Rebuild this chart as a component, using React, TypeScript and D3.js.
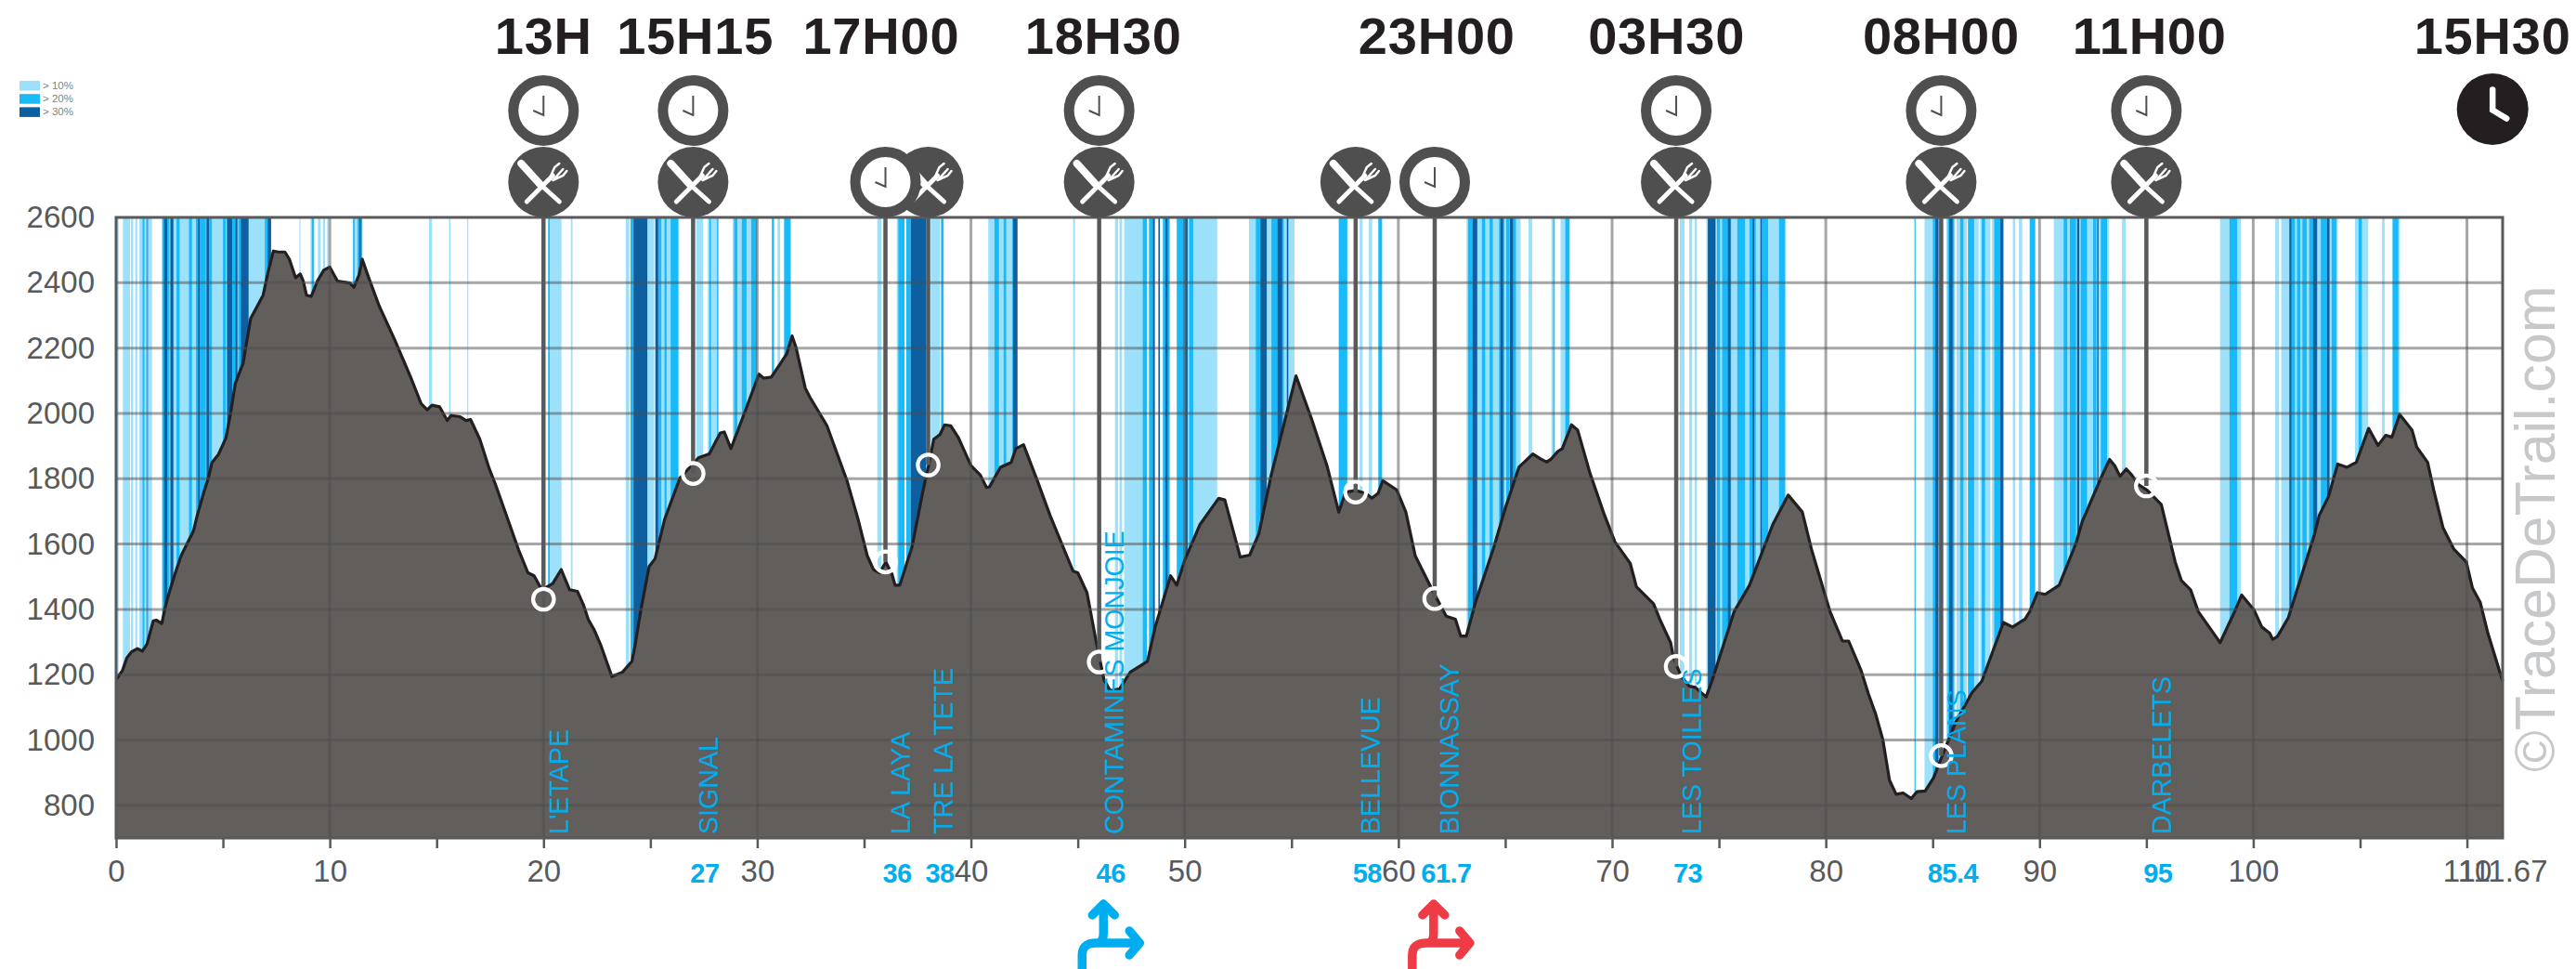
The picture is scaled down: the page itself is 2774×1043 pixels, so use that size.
import { useEffect, useRef } from "react";
import * as d3 from "d3";

// km, altitude (m)
const profile: [number, number][] = [
  [0, 1185], [0.3, 1213], [0.5, 1251], [0.72, 1270], [1, 1280], [1.23, 1272], [1.45, 1294], [1.74, 1365], [1.88, 1367], [2.14, 1357],
  [2.32, 1412], [2.46, 1446], [2.75, 1507], [3.04, 1564], [3.62, 1640], [3.8, 1688], [4.13, 1764], [4.32, 1802], [4.49, 1850], [4.78, 1873],
  [5.14, 1925], [5.36, 2001], [5.58, 2092], [5.94, 2153], [6.3, 2291], [6.88, 2362], [7.1, 2429], [7.36, 2497], [7.6, 2494], [7.9, 2494],
  [8.11, 2472], [8.4, 2415], [8.62, 2427], [8.76, 2405], [8.91, 2362], [9.13, 2358], [9.42, 2405], [9.71, 2438], [10, 2448], [10.36, 2405],
  [10.94, 2399], [11.13, 2386], [11.37, 2424], [11.52, 2472], [11.8, 2419], [12.31, 2329], [13.04, 2225], [13.76, 2115], [14.27, 2030], [14.56, 2011],
  [14.78, 2025], [15.14, 2020], [15.5, 1978], [15.67, 1994], [16.08, 1990], [16.37, 1978], [16.59, 1981], [17.02, 1921], [17.46, 1831], [17.75, 1783],
  [18.83, 1583], [19.27, 1512], [19.56, 1503], [19.92, 1460], [20.43, 1479], [20.83, 1522], [21.22, 1460], [21.59, 1455], [21.88, 1412], [22.09, 1370],
  [22.38, 1336], [22.69, 1289], [23.2, 1194], [23.7, 1208], [24.14, 1241], [24.28, 1289], [24.57, 1403], [24.94, 1531], [25.22, 1555], [25.66, 1674],
  [26.38, 1802], [27.25, 1864], [27.76, 1876], [28.27, 1940], [28.46, 1943], [28.77, 1892], [29.35, 1992], [30.08, 2120], [30.3, 2108], [30.66, 2111],
  [31.09, 2153], [31.38, 2182], [31.63, 2237], [31.82, 2201], [32.25, 2077], [32.47, 2049], [33.26, 1963], [34.21, 1792], [34.71, 1678], [35.15, 1564],
  [35.44, 1522], [35.73, 1512], [36.02, 1545], [36.31, 1507], [36.45, 1474], [36.67, 1474], [37.25, 1593], [37.76, 1764], [38.05, 1850], [38.26, 1921],
  [38.55, 1935], [38.77, 1965], [39.06, 1962], [39.42, 1925], [40, 1840], [40.44, 1811], [40.73, 1773], [40.87, 1775], [41.38, 1835], [41.88, 1850],
  [42.1, 1892], [42.46, 1904], [43.12, 1792], [43.7, 1688], [44.78, 1517], [45, 1512], [45.43, 1451], [45.87, 1298], [46.23, 1184], [46.52, 1151],
  [46.95, 1156], [47.46, 1208], [48.26, 1241], [48.62, 1346], [49.34, 1503], [49.63, 1474], [50, 1550], [50.72, 1660], [51.59, 1740], [51.88, 1735],
  [52.31, 1631], [52.6, 1560], [53.04, 1566], [53.47, 1631], [54.05, 1811], [55.21, 2115], [55.94, 1983], [56.66, 1840], [57.21, 1698], [57.53, 1759],
  [58.03, 1764], [58.47, 1755], [58.76, 1740], [59.05, 1755], [59.27, 1794], [59.92, 1766], [60.35, 1698], [60.79, 1564], [61.58, 1460], [62.24, 1379],
  [62.67, 1370], [62.92, 1318], [63.18, 1318], [63.61, 1422], [64.48, 1593], [64.99, 1707], [65.64, 1835], [66.29, 1876], [66.65, 1861], [66.94, 1851],
  [67.16, 1861], [67.45, 1883], [67.67, 1892], [68.1, 1965], [68.39, 1949], [68.97, 1816], [69.62, 1693], [70.13, 1607], [70.85, 1541], [71.14, 1469],
  [71.94, 1417], [72.23, 1370], [72.74, 1298], [72.88, 1251], [73.24, 1194], [73.61, 1165], [73.9, 1161], [74.4, 1132], [74.69, 1184], [75.71, 1393],
  [76.43, 1474], [77.52, 1660], [78.24, 1750], [78.9, 1698], [79.33, 1584], [80.2, 1393], [80.78, 1303], [81.07, 1303], [81.65, 1213], [82.0, 1140],
  [82.33, 1080], [82.67, 1001], [82.98, 877], [83.29, 834], [83.62, 838], [84, 821], [84.27, 842], [84.65, 844], [85.04, 884], [85.43, 949],
  [86.07, 1054], [86.84, 1145], [87.3, 1180], [88.31, 1360], [88.74, 1346], [89.32, 1370], [89.54, 1393], [89.9, 1451], [90.26, 1446], [90.92, 1474],
  [91.71, 1603], [92, 1669], [92.87, 1802], [93.28, 1859], [93.52, 1840], [93.77, 1807], [94.06, 1830], [94.32, 1811], [94.61, 1783], [95.05, 1764],
  [95.7, 1721], [96.35, 1545], [96.64, 1488], [97.07, 1460], [97.43, 1393], [98.09, 1332], [98.45, 1298], [99.1, 1389], [99.46, 1444], [100.04, 1398],
  [100.4, 1346], [100.77, 1327], [100.91, 1308], [101.13, 1317], [101.64, 1374], [102.87, 1631], [103.09, 1688], [103.52, 1745], [103.95, 1845], [104.39, 1835],
  [104.82, 1850], [105.4, 1954], [105.84, 1902], [106.2, 1933], [106.49, 1927], [106.85, 1997], [107.43, 1949], [107.65, 1897], [108.16, 1850], [108.45, 1764],
  [108.88, 1650], [109.39, 1584], [109.97, 1545], [110.26, 1465], [110.62, 1422], [110.98, 1327], [111.67, 1180],
];

// slope bands, [from km, to km]
const slope10: [number, number][] = [
  [0.04, 0.12], [0.32, 0.65], [0.7, 0.8], [0.9, 0.99], [1.09, 1.22], [1.33, 1.42], [1.52, 1.68], [2.14, 4.35], [4.49, 5], [5.14, 7],
  [8.58, 8.63], [9.1, 9.28], [9.45, 9.57], [9.68, 9.78], [9.88, 9.94], [11.09, 11.52], [14.64, 14.78], [15.58, 15.65], [16.43, 16.48], [20.22, 20.84], [21.28, 21.36],
  [23.85, 24.02], [24.86, 25.18], [25.52, 26.31], [27.15, 27.47], [27.69, 28.2], [28.85, 30.01], [30.69, 30.81], [30.95, 31.07], [31.24, 31.56],
  [35.62, 35.81], [36.53, 36.89], [38.12, 38.56], [40.81, 41.97],
  [44.78, 44.87], [46.74, 46.88], [46.95, 47.07], [47.17, 48.11], [49.85, 51.52], [53.01, 55.14], [58.19, 58.33], [58.62, 58.77], [63.19, 65.72], [66.09, 66.26],
  [67.16, 67.33], [67.59, 68.03], [73.17, 73.39], [73.61, 73.75], [73.86, 73.97], [74.41, 78.1],
  [84.62, 85.35], [85.64, 86.05], [86.12, 86.6], [86.68, 87.15], [87.22, 87.7], [87.78, 88.32], [88.75, 88.87], [89.04, 89.19], [90.67, 93.24], [93.86, 94.03], [98.45, 99.42], [101.03, 101.21], [101.31, 103.96],
  [104.76, 105.38], [106.03, 106.15], [106.5, 106.86],
];
const slope20: [number, number][] = [
  [1.23, 1.33], [1.45, 1.51], [2.17, 2.49], [2.83, 2.97], [3.41, 3.55], [3.74, 4.2], [4.35, 4.49], [5, 5.14], [5.43, 5.58], [5.72, 5.87], [6.96, 7.25],
  [9.16, 9.25], [11.09, 11.16], [11.3, 11.52], [20.22, 20.29],
  [24.07, 24.21], [25.37, 25.52], [25.66, 25.76], [25.95, 26.31], [27.76, 27.83], [28.12, 28.17], [28.92, 29.07], [29.28, 29.5], [29.72, 29.97], [30.69, 30.77], [31.27, 31.56],
  [36.6, 36.89], [36.97, 37.18], [38.6, 38.72], [41.1, 41.31], [41.53, 41.65], [41.94, 42.04],
  [48.04, 48.23], [48.33, 48.62], [48.98, 49.3], [49.63, 50.03], [50.21, 50.4], [53.33, 53.62], [54.06, 54.64], [57.21, 57.61], [59.06, 59.24],
  [63.26, 63.62], [63.91, 64.06], [64.27, 64.42], [64.71, 64.95], [65.05, 65.2], [65.3, 65.5], [67.25, 67.3], [67.81, 68],
  [74.91, 75.05], [75.15, 75.57], [75.86, 76.22], [76.43, 76.72], [77.01, 77.3], [77.81, 78.1], [84.15, 84.2], [85.01, 85.3], [85.71, 86], [86.29, 86.44], [86.65, 86.94], [87.3, 87.45], [87.88, 88.32],
  [89.54, 89.8], [91.13, 91.3], [91.42, 91.71], [91.93, 92.22], [92.51, 92.66], [92.87, 93.16], [98.89, 99.25], [101.79, 101.95], [102.05, 102.2], [102.3, 102.5], [102.62, 102.95], [103.16, 103.45], [103.67, 103.89], [104.93, 105.08], [106.53, 106.79],
];
const slope30: [number, number][] = [
  [1.42, 1.45], [2.25, 2.39], [2.54, 2.68], [3.84, 3.91], [4.23, 4.35], [5.19, 5.43], [5.58, 5.68], [5.84, 6.2], [7.1, 7.25], [11.38, 11.45],
  [24.21, 24.86], [25.23, 25.37], [37.18, 37.91], [41.97, 42.18],
  [48.52, 48.58], [48.77, 48.84], [49.1, 49.2], [50.03, 50.14], [53.55, 53.84], [54.35, 54.56], [54.78, 54.85], [63.48, 63.69], [64.78, 64.9], [65.22, 65.36],
  [74.48, 74.84], [75.42, 75.54], [76.58, 76.65], [76.94, 77.01], [85.13, 85.25], [85.78, 85.93], [88.17, 88.29],
  [91.76, 91.86], [92.7, 92.76], [101.69, 101.79], [102.8, 102.99], [103.45, 103.57],
];

const stopKm = [20, 27, 36, 38, 46, 58, 61.7, 73, 85.4, 95];
const stopAlt = [1431, 1816, 1545, 1842, 1239, 1759, 1433, 1225, 952, 1778];
const stopNames = ["L'ETAPE", "SIGNAL", "LA LAYA", "TRE LA TETE", "CONTAMINES MONJOIE", "BELLEVUE", "BIONNASSAY", "LES TOILLES", "LES PLANS", "DARBELETS"];
const stopKmLabels = ["", "27", "36", "38", "46", "58", "61.7", "73", "85.4", "95"];

const timeLabels = ["13H", "15H15", "17H00", "18H30", "23H00", "03H30", "08H00", "11H00", "15H30"];
const timeKm = [20, 27.1, 35.8, 46.2, 61.8, 72.55, 85.4, 95.15, 111.2];

const clockTopKm = [20, 27, 46, 73, 85.4, 95];
const clockLowKm = [36, 61.7];
const forkKm = [20, 27, 38, 46, 58, 73, 85.4, 95];
const finishKm = 111.2;
const arrowKm = [46.2, 61.65];
const arrowColors = ["#00aeef", "#ef3b45"];

const yTicks = [800, 1000, 1200, 1400, 1600, 1800, 2000, 2200, 2400, 2600];
const xLabelTicks = [0, 10, 20, 30, 40, 50, 60, 70, 80, 90, 100, 110, 111.67];
const xMarks = d3.range(0, 115, 5);

const legendLabels = ["> 10%", "> 20%", "> 30%"];
const slopeColors = ["#9de0fa", "#19baf9", "#0d5f9f"];

const W = 2774;
const H = 1043;
const margin = { top: 234, right: 79, bottom: 141, left: 125 };
const GREY = "#58595b";
const TEXT = "Liberation Sans, Arial, sans-serif";

export default function App() {
  const svgRef = useRef<SVGSVGElement>(null);

  useEffect(() => {
    if (!svgRef.current) return;
    const svg = d3.select(svgRef.current);
    svg.selectAll("*").remove();

    const x = d3.scaleLinear().domain([0, 111.67]).range([margin.left, W - margin.right]);
    const y = d3.scaleLinear().domain([700, 2600]).range([H - margin.bottom, margin.top]);
    const top = margin.top;
    const bottom = H - margin.bottom;

    // Slope stripes, lightest first
    [slope10, slope20, slope30].forEach((bands, i) => {
      svg.append("g")
        .selectAll("rect")
        .data(bands)
        .join("rect")
        .attr("x", (d) => x(d[0]))
        .attr("width", (d) => x(d[1]) - x(d[0]))
        .attr("y", top)
        .attr("height", bottom - top)
        .attr("fill", slopeColors[i]);
    });

    // Profile
    const area = d3.area<[number, number]>().x((d) => x(d[0])).y0(bottom).y1((d) => y(d[1]));
    const line = d3.line<[number, number]>().x((d) => x(d[0])).y((d) => y(d[1]));
    svg.append("path").attr("d", area(profile)).attr("fill", "#625e5c");
    svg.append("path").attr("d", line(profile)).attr("fill", "none").attr("stroke", "#231f20").attr("stroke-width", 3.2).attr("stroke-linejoin", "round");

    // Grid
    const grid = svg.append("g").attr("stroke", "#4d4d4d").attr("stroke-opacity", 0.5).attr("stroke-width", 3);
    yTicks.slice(0, -1).forEach((t) => {
      grid.append("line").attr("x1", x(0)).attr("x2", x(111.67)).attr("y1", y(t)).attr("y2", y(t));
    });
    d3.range(10, 120, 10).forEach((t) => {
      grid.append("line").attr("x1", x(t)).attr("x2", x(t)).attr("y1", top).attr("y2", bottom);
    });

    // Frame
    svg.append("rect")
      .attr("x", x(0))
      .attr("y", top)
      .attr("width", x(111.67) - x(0))
      .attr("height", bottom - top)
      .attr("fill", "none")
      .attr("stroke", GREY)
      .attr("stroke-width", 3);

    // Axes
    const yAxis = svg.append("g")
      .attr("transform", `translate(${margin.left},0)`)
      .call(d3.axisLeft(y).tickValues(yTicks).tickSize(0).tickPadding(23).tickFormat(d3.format("d")));
    const xAxis = svg.append("g")
      .attr("transform", `translate(0,${bottom})`)
      .call(d3.axisBottom(x).tickValues(xMarks).tickSize(11).tickFormat(() => ""));
    const xText = svg.append("g")
      .attr("transform", `translate(0,${bottom})`)
      .call(d3.axisBottom(x).tickValues(xLabelTicks).tickSize(0).tickPadding(24).tickFormat((d) => String(d)));
    [yAxis, xAxis, xText].forEach((a) => {
      a.select(".domain").remove();
      a.selectAll("text").attr("font-family", TEXT).attr("font-size", 33).attr("fill", GREY);
    });
    xAxis.selectAll("line").attr("stroke", GREY).attr("stroke-width", 2.5);

    // Stop lines and rings
    stopKm.forEach((km, i) => {
      svg.append("line")
        .attr("x1", x(km))
        .attr("x2", x(km))
        .attr("y1", top)
        .attr("y2", y(stopAlt[i]))
        .attr("stroke", GREY)
        .attr("stroke-width", 4.5);
    });
    stopKm.forEach((km, i) => {
      svg.append("circle")
        .attr("cx", x(km))
        .attr("cy", y(stopAlt[i]))
        .attr("r", 11.2)
        .attr("fill", "none")
        .attr("stroke", "#fff")
        .attr("stroke-width", 4.2);
    });

    // Icons
    const drawFork = (cx: number, cy: number) => {
      const g = svg.append("g").attr("transform", `translate(${cx},${cy})`);
      g.append("circle").attr("r", 38).attr("fill", "#4f4f4f");
      const s = g.append("g").attr("fill", "none").attr("stroke", "#fff").attr("stroke-linecap", "round");
      s.append("path").attr("d", "M-24,-20L-4,2").attr("stroke-width", 8);
      s.append("path").attr("d", "M-4,2L17,21").attr("stroke-width", 5);
      s.append("path").attr("d", "M-18,21L10,-7").attr("stroke-width", 5);
      s.append("path").attr("d", "M7,-5L12,-16L17,-20M10,-2L21,-7L25,-12M12,-4L21,-14").attr("stroke-width", 2.5);
    };
    const drawClock = (cx: number, cy: number) => {
      const g = svg.append("g").attr("transform", `translate(${cx},${cy})`);
      g.append("circle").attr("r", 32.5).attr("fill", "#fff").attr("stroke", "#4f4f4f").attr("stroke-width", 11);
      g.append("path").attr("d", "M0,-16V5L-11,0").attr("fill", "none").attr("stroke", "#4f4f4f").attr("stroke-width", 2);
    };
    const yIconTop = 119;
    const yIconLow = 196;
    forkKm.forEach((km) => drawFork(x(km), yIconLow));
    clockTopKm.forEach((km) => drawClock(x(km), yIconTop));
    clockLowKm.forEach((km) => drawClock(x(km), yIconLow));

    // Finish clock
    const finish = svg.append("g").attr("transform", `translate(${x(finishKm)},117.5)`);
    finish.append("circle").attr("r", 38.5).attr("fill", "#231f20");
    finish.append("path")
      .attr("d", "M0,-21V1L15,10")
      .attr("fill", "none")
      .attr("stroke", "#fff")
      .attr("stroke-width", 6.5)
      .attr("stroke-linecap", "round");

    // Time labels
    svg.append("g")
      .selectAll("text")
      .data(timeLabels)
      .join("text")
      .attr("x", (_, i) => x(timeKm[i]))
      .attr("y", 58)
      .attr("text-anchor", "middle")
      .attr("font-family", TEXT)
      .attr("font-weight", 700)
      .attr("font-size", 56)
      .attr("letter-spacing", 0.8)
      .attr("fill", "#231f20")
      .text((d) => d);

    // Stop names, written upwards
    stopNames.forEach((name, i) => {
      svg.append("text")
        .attr("transform", `translate(${x(stopKm[i]) + 26.5},898) rotate(-90)`)
        .attr("font-family", TEXT)
        .attr("font-size", 28.6)
        .attr("fill", "#00aeef")
        .text(name);
    });

    // Stop km labels
    stopKmLabels.forEach((label, i) => {
      svg.append("text")
        .attr("x", x(stopKm[i]) + 12.5)
        .attr("y", 950)
        .attr("text-anchor", "middle")
        .attr("font-family", TEXT)
        .attr("font-weight", 700)
        .attr("font-size", 29)
        .attr("letter-spacing", -0.5)
        .attr("fill", "#00aeef")
        .text(label);
    });

    // Legend
    legendLabels.forEach((label, i) => {
      svg.append("rect").attr("x", 21).attr("y", 87 + i * 14.2).attr("width", 22).attr("height", 10.5).attr("fill", slopeColors[i]);
      svg.append("text")
        .attr("x", 46)
        .attr("y", 96 + i * 14.2)
        .attr("font-family", TEXT)
        .attr("font-size", 11.5)
        .attr("fill", "#808285")
        .text(label);
    });

    // Route arrows
    arrowKm.forEach((km, i) => {
      svg.append("path")
        .attr("transform", `translate(${x(km)},968)`)
        .attr("d", "M-23,76V60Q-23,47-8,47H39M28,34L39,47L28,60M-5,47Q0,45 0,36V5M-12,17L0,5L12,17")
        .attr("fill", "none")
        .attr("stroke", arrowColors[i])
        .attr("stroke-width", 9.5)
        .attr("stroke-linecap", "round")
        .attr("stroke-linejoin", "round");
    });

    // Watermark
    svg.append("text")
      .attr("transform", "translate(2751,831) rotate(-90)")
      .attr("font-family", TEXT)
      .attr("font-size", 60.8)
      .attr("fill", "#c7c8ca")
      .text("©TraceDeTrail.com");
  }, []);

  return (
    <svg
      ref={svgRef}
      width={W}
      height={H}
      style={{ position: "absolute", left: 0, top: 0, display: "block", background: "#fff" }}
    />
  );
}
